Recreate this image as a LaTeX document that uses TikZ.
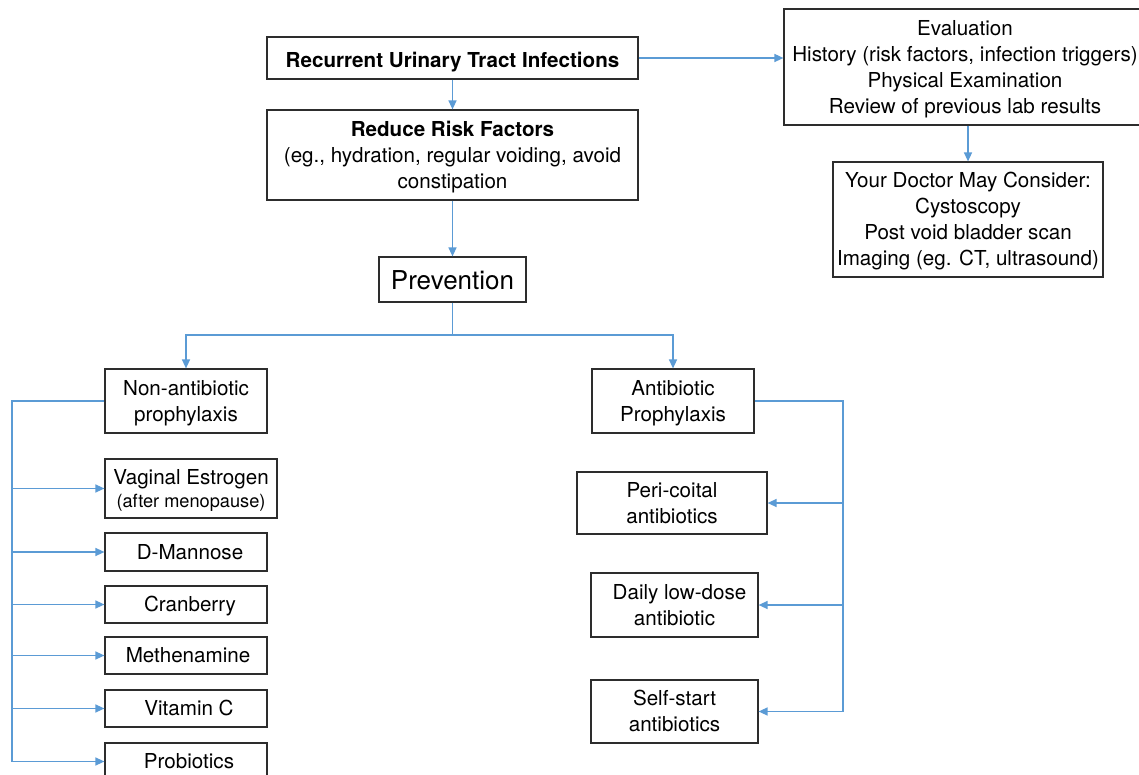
\documentclass[tikz,border=0pt]{standalone}
\usepackage{fontspec}
\setmainfont{TeX Gyre Heros}
\usetikzlibrary{arrows.meta}
\definecolor{linkblue}{RGB}{91,155,213}
\definecolor{boxgray}{RGB}{45,45,45}
\newcommand{\ts}{\rule{0pt}{20.8pt}}
\newcommand{\tslow}{\rule{0pt}{24.8pt}}
\newcommand{\tsbig}{\rule{0pt}{25.7pt}}
\newcommand{\bs}{\rule[-6pt]{0pt}{6pt}}
\begin{document}
\begin{tikzpicture}[x=1pt,y=-1pt,
  box/.style={draw=boxgray,line width=1.2pt,inner sep=0pt,align=center,
    font=\fontsize{20.6}{26}\selectfont},
  bigbox/.style={box,font=\fontsize{26}{30}\selectfont},
  link/.style={draw=linkblue,line width=1.4pt},
  arr/.style={link,-{Triangle[length=9pt,width=8pt]}}]
\useasboundingbox (0,0) rectangle (1139,775);
\clip (0,0) rectangle (1139,775);
\fill[white] (0,0) rectangle (1139,775);
% top
\node[box,minimum width=371pt,minimum height=42pt] (ruti) at (452.5,58) {\tslow\bfseries Recurrent Urinary Tract Infections\bs};
\node[box,minimum width=371pt,minimum height=90pt] (reduce) at (452.5,155) {\ts\bfseries Reduce Risk Factors\\(eg., hydration, regular voiding, avoid\\constipation\bs};
\node[box,minimum width=362pt,minimum height=116pt] (eval) at (965,67) {\ts Evaluation\\History (risk factors, infection triggers)\\Physical Examination\\Review of previous lab results\bs};
\node[box,minimum width=270pt,minimum height=115pt] (doctor) at (968,219.5) {\ts Your Doctor May Consider:\\Cystoscopy\\Post void bladder scan\\Imaging (eg. CT, ultrasound)\bs};
\node[bigbox,minimum width=147pt,minimum height=45pt] (prev) at (452.5,279.5) {\tsbig Prevention\bs};
% left branch
\node[box,minimum width=162pt,minimum height=64pt] (nonab) at (186,401) {\ts Non-antibiotic\\prophylaxis\bs};
\node[box,minimum width=172pt,minimum height=59pt] (vag) at (191,488.5) {\ts Vaginal Estrogen\\[-3pt]{\fontsize{18.2}{22}\selectfont (after menopause)}\bs};
\node[box,minimum width=162pt,minimum height=38pt] (dman) at (186,552) {\ts\hspace*{8pt}D-Mannose\bs};
\node[box,minimum width=162pt,minimum height=37pt] (cran) at (186,604.5) {\ts\hspace*{8pt}Cranberry\bs};
\node[box,minimum width=162pt,minimum height=37pt] (meth) at (186,655.5) {\ts\hspace*{4pt}Methenamine\bs};
\node[box,minimum width=162pt,minimum height=37pt] (vitc) at (186,708.5) {\ts\hspace*{6pt}Vitamin C\bs};
\node[box,minimum width=162pt,minimum height=37pt] (prob) at (186,761.5) {\ts\hspace*{6pt}Probiotics\bs};
% right branch
\node[box,minimum width=162pt,minimum height=64pt] (ab) at (673,401) {\ts Antibiotic\\Prophylaxis\bs};
\node[box,minimum width=190pt,minimum height=62pt] (peri) at (672,503) {\ts Peri-coital\\antibiotics\bs};
\node[box,minimum width=167pt,minimum height=64pt] (daily) at (674.5,605) {\ts\hspace*{10pt}Daily low-dose\\antibiotic\bs};
\node[box,minimum width=167pt,minimum height=63pt] (self) at (674.5,711.5) {\ts Self-start\\antibiotics\bs};
% connectors
\draw[arr] (ruti) -- (reduce);
\draw[arr] (ruti.east) -- (ruti.east -| eval.west);
\draw[arr] (reduce) -- (prev);
\draw[arr] (doctor.north |- eval.south) -- (doctor.north);
\coordinate (split) at (452.5,335);
\draw[arr] (prev.south) -- (split) -| (nonab.north);
\draw[arr] (split) -| (ab.north);
\coordinate (lbus) at (12,401);
\draw[link] (nonab.west) -- (lbus) -- (lbus |- prob.west);
\foreach \n in {vag,dman,cran,meth,vitc,prob}
  \draw[arr] (lbus |- \n.west) -- (\n.west);
\coordinate (rbus) at (843,401);
\draw[link] (ab.east) -- (rbus) -- (rbus |- self.east);
\foreach \n in {peri,daily,self}
  \draw[arr] (rbus |- \n.east) -- (\n.east);
\end{tikzpicture}
\end{document}
